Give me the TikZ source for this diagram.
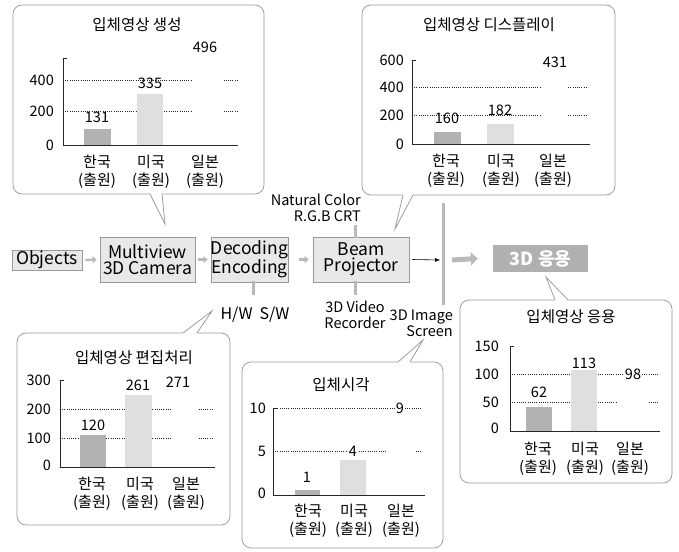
\documentclass[tikz,border=0pt]{standalone}
\usepackage{fontspec}
\setmainfont{Noto Sans CJK KR}
\usetikzlibrary{arrows.meta}

% speech-bubble frames: tail on the bottom edge / on the top edge
% args: x1 y1 x2 y2 base-x1 base-x2 tip-x tip-y
\newcommand{\bubbledown}[8]{%
  \draw[callout] (#1,#2) rectangle (#3,#4);
  \fill[white] (#5,#4-1) -- (#7,#8) -- (#6,#4-1) -- cycle;
  \draw[white, line width=1.6pt] (#5,#4) -- (#6,#4);
  \draw[tail] (#5,#4) -- (#7,#8) -- (#6,#4);}
\newcommand{\bubbleup}[8]{%
  \draw[callout] (#1,#2) rectangle (#3,#4);
  \fill[white] (#5,#2+1) -- (#7,#8) -- (#6,#2+1) -- cycle;
  \draw[white, line width=1.6pt] (#5,#2) -- (#6,#2);
  \draw[tail] (#5,#2) -- (#7,#8) -- (#6,#2);}

\tikzset{
  callout/.style={draw=gray!80, line width=0.75pt, fill=white, rounded corners=9pt},
  tail/.style={draw=gray!80, line width=0.75pt, line join=miter},
  flowbox/.style={draw=gray!80, line width=0.8pt, fill=gray!18, inner sep=0pt,
    align=center, font=\fontsize{17.5}{16}\selectfont},
  appbox/.style={fill=gray!62, inner sep=0pt, minimum width=95, minimum height=27,
    text=white, font=\fontsize{18}{18}\selectfont\bfseries},
  smallarrow/.style={draw=gray!55, line width=2.4pt, -{Triangle[length=4pt,width=7pt]}},
  bigarrow/.style={draw=gray!55, line width=5pt, -{Triangle[length=7pt,width=13pt]}},
  hatchlink/.style={draw=gray!55, line width=3pt},
  thinarrow/.style={draw=black, line width=0.6pt, -{Latex[length=5pt,width=4pt]}},
  axisline/.style={draw=black!85, line width=0.9pt},
  gridline/.style={draw=black!85, line width=0.75pt, dash pattern=on 0.8pt off 1.4pt},
  krbar/.style={fill=gray!60},
  usbar/.style={fill=gray!25},
  jpbar/.style={fill=white},
  ticklab/.style={anchor=east, inner sep=1pt, font=\fontsize{14.5}{14}\selectfont},
  vallab/.style={inner sep=1pt, font=\fontsize{14.5}{14}\selectfont},
  catlab/.style={align=center, inner sep=0pt, font=\fontsize{15}{18}\selectfont},
  charttitle/.style={inner sep=0pt, font=\fontsize{15.5}{16}\selectfont},
  annot/.style={inner sep=0pt, font=\fontsize{14.5}{16}\selectfont},
}

\begin{document}
\begin{tikzpicture}[x=1pt, y=-1pt]
\useasboundingbox (0,0) rectangle (679,551);

% ---------- speech bubbles ----------
\bubbledown{13}{5}{264}{194}{150}{162}{165}{224}
\bubbledown{362}{5}{615}{195}{403}{413}{395}{229}
\bubbleup{17}{333}{230}{525}{183}{197}{212}{311}
\bubbleup{242}{362}{443}{548}{398}{410}{423}{340}
\bubbleup{460}{300}{672}{483}{555}{568}{546}{277}

% ---------- process chain ----------
\node[flowbox, minimum width=70, minimum height=20] (obj) at (47,260) {Objects};
\node[flowbox, minimum width=95, minimum height=45] (cam) at (147.5,259.5) {Multiview\\3D Camera};
\node[flowbox, minimum width=75, minimum height=45] (codec) at (249.5,259.5) {Decoding\\Encoding};
\node[flowbox, minimum width=96, minimum height=45] (beam) at (361,259.5) {Beam\\Projector};
\node[appbox] (app) at (540.5,258.5) {3D 응용};

\draw[smallarrow] ([xshift=3]obj.east) -- ([xshift=-3]cam.west);
\draw[smallarrow] ([xshift=3]cam.east) -- ([xshift=-3]codec.west);
\draw[smallarrow] ([xshift=11]codec.east) -- ([xshift=-4]beam.west);

% projection screen
\coordinate (scrtop) at (443,203);
\coordinate (scrbot) at (443,305);
\coordinate (scr) at (443,260);
\draw[gray!55, line width=3pt] (scrtop) -- (scrbot);
\draw[thinarrow] ([xshift=3]beam.east) -- ([xshift=-3]scr);
\draw[bigarrow] ([xshift=9]scr) -- ([xshift=-15]app.west);

% side annotations
\node[annot, align=right, anchor=east] (crt) at (361,208) {Natural Color\\R.G.B CRT};
\node[annot, font=\fontsize{16}{16}\selectfont] (hwsw) at (255,315) {H/W\hspace{7pt}S/W};
\node[annot, align=center] (rec) at (355,315) {3D Video\\Recorder};
\node[annot, align=right, anchor=east] (scrlab) at (453,323.5) {3D Image\\Screen};

\draw[hatchlink] ([xshift=-6,yshift=-1]beam.north) -- ([xshift=-6,yshift=-3]crt.south east);
\draw[hatchlink] ([xshift=3.5,yshift=1]codec.south) -- ++(0,14);
\draw[hatchlink] ([xshift=-6,yshift=1]beam.south) -- ++(0,14);

% ---------- chart: 입체영상 생성 ----------
\node[charttitle] (t1) at (137,25) {입체영상 생성};
\draw[gridline] (63,80) -- (238,80);
\draw[gridline] (63,111) -- (238,111);
\fill[jpbar] (192,64) rectangle (222,144);
\fill[krbar] (84,129) rectangle (111,145);
\fill[usbar] (137,94) rectangle (163,145);
\draw[axisline] (67,58) -- (63,58) -- (63,145) -- (238,145);
\node[ticklab] at (55,80) {400};
\node[ticklab] at (55,111) {200};
\node[ticklab] at (55,145) {0};
\node[vallab] at (97,117) {131};
\node[vallab] at (150,83) {335};
\node[vallab] at (205,47) {496};
\node[catlab] at (97,172) {한국\\(출원)};
\node[catlab] at (151,172) {미국\\(출원)};
\node[catlab] at (205,172) {일본\\(출원)};

% ---------- chart: 입체영상 디스플레이 ----------
\node[charttitle] (t2) at (489,25) {입체영상 디스플레이};
\draw[gridline] (412,87) -- (588,87);
\draw[gridline] (412,115) -- (588,115);
\fill[jpbar] (542,83) rectangle (568,143);
\fill[krbar] (434,132) rectangle (461,144);
\fill[usbar] (487,124) rectangle (514,144);
\draw[axisline] (416,60) -- (412,60) -- (412,144) -- (590,144);
\node[ticklab] at (405,60) {600};
\node[ticklab] at (405,87) {400};
\node[ticklab] at (405,115) {200};
\node[ticklab] at (405,144) {0};
\node[vallab] at (447,118) {160};
\node[vallab] at (500,110) {182};
\node[vallab] at (555,62) {431};
\node[catlab] at (446,171) {한국\\(출원)};
\node[catlab] at (501,171) {미국\\(출원)};
\node[catlab] at (553,171) {일본\\(출원)};

% ---------- chart: 입체영상 편집처리 ----------
\node[charttitle] (t3) at (134,358) {입체영상 편집처리};
\draw[gridline] (60,409) -- (213,409);
\draw[gridline] (60,438) -- (213,438);
\fill[jpbar] (172,388) rectangle (198,466);
\fill[krbar] (80,435) rectangle (106,467);
\fill[usbar] (125,395) rectangle (152,467);
\draw[axisline] (64,380) -- (60,380) -- (60,467) -- (215,467);
\node[ticklab] at (52,380) {300};
\node[ticklab] at (52,409) {200};
\node[ticklab] at (52,438) {100};
\node[ticklab] at (52,465) {0};
\node[vallab] at (93,425) {120};
\node[vallab] at (138,385) {261};
\node[vallab] at (178,382) {271};
\node[catlab] at (92,494) {한국\\(출원)};
\node[catlab] at (140,494) {미국\\(출원)};
\node[catlab] at (186,494) {일본\\(출원)};

% ---------- chart: 입체시각 ----------
\node[charttitle] (t4) at (341,385) {입체시각};
\draw[gridline] (273,408) -- (422,408);
\draw[gridline] (273,451) -- (422,451);
\fill[jpbar] (387,417) rectangle (415,494);
\fill[krbar] (295,490) rectangle (320,495);
\fill[usbar] (340,460) rectangle (366,495);
\draw[axisline] (277,408) -- (273,408) -- (273,495) -- (425,495);
\node[ticklab] at (267,408) {10};
\node[ticklab] at (267,451) {5};
\node[ticklab] at (267,493) {0};
\node[vallab] at (307,477) {1};
\node[vallab, fill=white] at (353,451) {4};
\node[vallab, fill=white] at (400,408) {9};
\node[catlab] at (308,521) {한국\\(출원)};
\node[catlab] at (354,521) {미국\\(출원)};
\node[catlab] at (401,521) {일본\\(출원)};

% ---------- chart: 입체영상 응용 ----------
\node[charttitle] (t5) at (571,317) {입체영상 응용};
\draw[gridline] (510,374) -- (658,374);
\draw[gridline] (510,402) -- (658,402);
\fill[jpbar] (618,376) rectangle (648,430);
\fill[krbar] (526,407) rectangle (552,431);
\fill[usbar] (571,370) rectangle (597,431);
\draw[axisline] (514,346) -- (510,346) -- (510,431) -- (660,431);
\node[ticklab] at (500,346) {150};
\node[ticklab] at (500,374) {100};
\node[ticklab] at (500,402) {50};
\node[ticklab] at (500,428) {0};
\node[vallab] at (539,392) {62};
\node[vallab] at (584,363) {113};
\node[vallab, fill=white] at (633,374) {98};
\node[catlab] at (538,459) {한국\\(출원)};
\node[catlab] at (585,459) {미국\\(출원)};
\node[catlab] at (630,459) {일본\\(출원)};
\end{tikzpicture}
\end{document}
